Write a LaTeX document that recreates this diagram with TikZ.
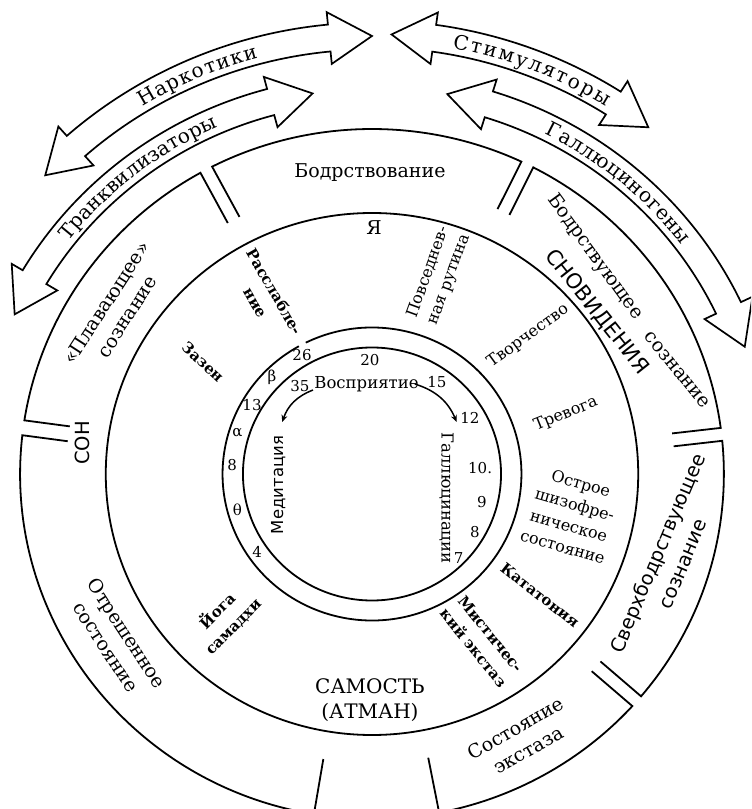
\documentclass[tikz,border=0pt]{standalone}
\usepackage{fontspec}
\setmainfont{DejaVu Serif}
\setsansfont{DejaVu Sans}
\usetikzlibrary{calc,decorations.text,arrows.meta}

% curved double arrow: radius, angle of ccw tip, angle of cw tip
\newcommand\dblarrow[3]{%
 \pgfmathsetmacro\hA{42/#1*57.2958}%
 \pgfmathsetmacro\bA{#2-\hA}%
 \pgfmathsetmacro\bB{#3+\hA}%
 \pgfmathsetmacro\rHo{#1+26}\pgfmathsetmacro\rSo{#1+13.5}%
 \pgfmathsetmacro\rHi{#1-26}\pgfmathsetmacro\rSi{#1-13.5}%
 \draw[arrowline] (#2:#1) -- (\bA:\rHo) -- (\bA:\rSo)
   arc[start angle=\bA, end angle=\bB, radius=\rSo] -- (\bB:\rHo) -- (#3:#1)
   -- (\bB:\rHi) -- (\bB:\rSi) arc[start angle=\bB, end angle=\bA, radius=\rSi]
   -- (\bA:\rHi) -- cycle;
}
% outer ring segment: angle A, angle B, offset at A, offset at B, inner radius at A, at B
\newcommand\segm[6]{%
 \pgfmathsetmacro\sA{#1+#3/345*57.2958}%
 \pgfmathsetmacro\sB{#2-#4/345*57.2958}%
 \draw[ringline] ($(#1:#5)+(#1+90:#3)$) -- (\sA:345)
   arc[start angle=\sA, end angle=\sB, radius=345] -- ($(#2:#6)+(#2-90:#4)$);
}
\newcommand\arrowfont{\fontsize{20}{20}\selectfont}
\newcommand\arclabel[4]{%
 \path[decorate, decoration={text along path, text align=fit to path,
   text={|\arrowfont|#4}}] (#2:#1) arc[start angle=#2, end angle=#3, radius=#1];
}

\begin{document}
\begin{tikzpicture}[x=1.02pt, y=1pt,
  ringline/.style={line width=1.8pt},
  arrowline/.style={line width=1.7pt, line join=miter},
  big/.style={font=\fontsize{19}{25}\selectfont, align=center, inner sep=0pt},
  bigsans/.style={font=\sffamily\fontsize{19.5}{27}\selectfont, align=center, inner sep=0pt},
  lbl/.style={font=\fontsize{16}{22}\selectfont, align=center, inner sep=0pt},
  lblb/.style={font=\bfseries\fontsize{15}{22}\selectfont, align=center, inner sep=0pt},
  num/.style={font=\fontsize{15}{15}\selectfont, inner sep=0pt},
  midser/.style={font=\fontsize{16.5}{16.5}\selectfont, inner sep=0pt},
  midsans/.style={font=\sffamily\fontsize{16.5}{16.5}\selectfont, inner sep=0pt},
  link/.style={line width=1.5pt, -{Stealth[length=7pt,width=6pt]}}]
\useasboundingbox (-364.7,-335) rectangle (371.6,474);
\clip (-364.7,-335) rectangle (371.6,474);

% double arrows
\dblarrow{438}{137}{90}
\dblarrow{440}{87.5}{52}
\dblarrow{385}{155.5}{98.7}
\dblarrow{387}{79}{19.2}
\arclabel{431}{121.5}{105}{Наркотики}
\arclabel{433}{79.5}{58}{Стимуляторы}
\arclabel{378}{142}{113.5}{Транквилизаторы}
\arclabel{380}{63.5}{37}{Галлюциногены}

% outer ring segments
\segm{63.8}{118.1}{6.5}{6.5}{292}{288}
\segm{118.1}{172.3}{6.5}{7.5}{288}{300}
\segm{172.3}{260.5}{7.5}{0}{300}{289}
\segm{-79}{-41.2}{0}{6.5}{289}{292}
\segm{-41.2}{6.6}{6.5}{6.5}{292}{297}
\segm{6.6}{63.8}{6.5}{6.5}{297}{292}

% circles
\draw[ringline] (0,0) circle[radius=261];
\draw[ringline] (0,0) circle[radius=126.5];
\draw[ringline] (119.3:146.5) arc[start angle=119.3, end angle=476.3, radius=146.5];

% outer ring labels
\node[big, anchor=base] (bodr) at (-2,296) {Бодрствование};
\node[big, rotate=57] (plav) at (-250.5,164.5) {«Плавающее»\\сознание};
\node[bigsans, rotate=90] (son) at (-284,31) {СОН};
\node[big, rotate=-57] (otr) at (-250.5,-166) {Отрешенное\\состояние};
\node[big, rotate=30] (ekst) at (147,-265) {Состояние\\экстаза};
\node[bigsans, rotate=67] (sverh) at (291.7,-84.5) {Сверхбодрствующее\\сознание};
\node[big, rotate=-54] (bs1) at (218.6,217) {Бодрствующее};
\node[big, rotate=-51] (bs2) at (299,104) {сознание};
\node[font=\sffamily\fontsize{21}{21}\selectfont, inner sep=0pt, rotate=-51.5] (snov) at (220.6,162) {СНОВИДЕНИЯ};

% middle ring labels
\node[big, anchor=base] (ya) at (2,239) {Я};
\node[lblb, rotate=-60] (rassl) at (-104.9,177) {Расслабле-\\ние};
\node[lbl, rotate=70] (povs) at (65.7,198) {Повседнев-\\ная рутина};
\node[lbl, rotate=36] (tvor) at (153,138) {Творчество};
\node[lbl, rotate=22] (trev) at (190,60) {Тревога};
\node[lbl, rotate=-16] (ostr) at (196,-41) {Острое\\шизофре-\\ническое\\состояние};
\node[lblb, rotate=-38] (katat) at (164.7,-121) {Кататония};
\node[lblb, rotate=-51] (mist) at (107.8,-167) {Мистичес-\\кий экстаз};
\node[lblb, rotate=45] (yoga) at (-144.6,-144) {Йога\\самадхи};
\node[lblb, rotate=-43] (zazen) at (-165.7,112) {Зазен};
\node[font=\fontsize{20}{25}\selectfont, align=center, inner sep=0pt] (samost) at (-2,-226) {САМОСТЬ\\(АТМАН)};

% thin ring numbers
\node[num] (n26) at (-68.6,119) {26};
\node[num] (nb) at (-98,97) {β};
\node[num] (n13) at (-117.6,69) {13};
\node[num] (na) at (-132,41) {α};
\node[num] (n8l) at (-137,9) {8};
\node[num] (nt) at (-132,-36) {θ};
\node[num] (n4) at (-112.7,-78) {4};

% inner circle
\node[num] (n20) at (-2,114) {20};
\node[num] (n35) at (-70.6,88) {35};
\node[midser] (vospr) at (-5.4,90) {Восприятие};
\node[num] (n15) at (63.7,92) {15};
\node[num] (n12) at (96,56) {12};
\node[num] (n10) at (106,6) {10.};
\node[num] (n9) at (107.8,-28) {9};
\node[num] (n8r) at (101,-58) {8};
\node[num] (n7) at (85,-84) {7};
\node[midsans, rotate=90] (medit) at (-92,-11) {Медитация};
\node[midser, rotate=-90] (gall) at (73,-24) {Галлюцинации};

\coordinate (aLs) at (-57.8,84);
\coordinate (aLe) at (-88,52);
\coordinate (aRs) at (42,90);
\coordinate (aRe) at (83,52);
\draw[link] (aLs) to[bend right=25] (aLe);
\draw[link] (aRs) to[bend left=25] (aRe);
\end{tikzpicture}
\end{document}
